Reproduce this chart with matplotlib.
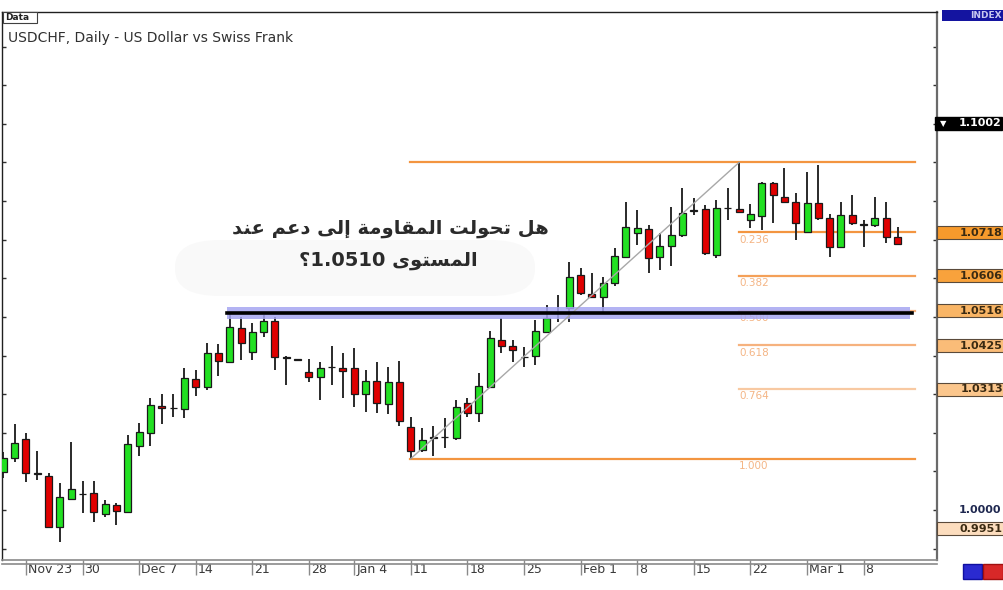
import numpy as np
import matplotlib
matplotlib.use("Agg")
import matplotlib.pyplot as plt
import matplotlib.transforms as mtransforms
from matplotlib.patches import Rectangle, FancyBboxPatch

# ───────────────────────── Data ─────────────────────────
opens = [1.0098, 1.0135, 1.0184, 1.0096, 1.0088, 0.9956, 1.0029, 1.0041, 1.0044, 0.9990,
         1.0013, 0.9995, 1.0166, 1.0199, 1.0269, 1.0264, 1.0262, 1.0339, 1.0319, 1.0407,
         1.0383, 1.0471, 1.0409, 1.0461, 1.0490, 1.0396, 1.0389, 1.0357, 1.0345, 1.0370,
         1.0368, 1.0368, 1.0300, 1.0334, 1.0275, 1.0332, 1.0215, 1.0155, 1.0187, 1.0189,
         1.0187, 1.0277, 1.0251, 1.0319, 1.0440, 1.0425, 1.0396, 1.0399, 1.0461, 1.0511,
         1.0523, 1.0609, 1.0559, 1.0552, 1.0588, 1.0655, 1.0717, 1.0728, 1.0655, 1.0684,
         1.0712, 1.0775, 1.0780, 1.0661, 1.0781, 1.0780, 1.0751, 1.0761, 1.0847, 1.0811,
         1.0798, 1.0720, 1.0795, 1.0756, 1.0681, 1.0764, 1.0741, 1.0738, 1.0756, 1.0707]
highs = [1.0150, 1.0223, 1.0199, 1.0153, 1.0096, 1.0070, 1.0176, 1.0075, 1.0075, 1.0026,
         1.0018, 1.0194, 1.0225, 1.0290, 1.0300, 1.0300, 1.0368, 1.0363, 1.0433, 1.0430,
         1.0510, 1.0500, 1.0484, 1.0505, 1.0500, 1.0399, 1.0390, 1.0391, 1.0383, 1.0425,
         1.0407, 1.0420, 1.0363, 1.0383, 1.0370, 1.0386, 1.0241, 1.0212, 1.0218, 1.0238,
         1.0285, 1.0290, 1.0355, 1.0464, 1.0497, 1.0440, 1.0422, 1.0492, 1.0531, 1.0557,
         1.0642, 1.0627, 1.0614, 1.0604, 1.0679, 1.0798, 1.0777, 1.0738, 1.0717, 1.0785,
         1.0834, 1.0808, 1.0790, 1.0803, 1.0834, 1.0900, 1.0793, 1.0850, 1.0850, 1.0886,
         1.0821, 1.0875, 1.0894, 1.0767, 1.0798, 1.0816, 1.0751, 1.0811, 1.0798, 1.0733]
lows = [1.0083, 1.0124, 1.0073, 1.0078, 0.9955, 0.9917, 1.0026, 0.9992, 0.9969, 0.9982,
        0.9961, 0.9992, 1.0140, 1.0166, 1.0223, 1.0241, 1.0238, 1.0295, 1.0311, 1.0347,
        1.0381, 1.0389, 1.0389, 1.0448, 1.0363, 1.0324, 1.0388, 1.0332, 1.0285, 1.0324,
        1.0290, 1.0267, 1.0254, 1.0251, 1.0249, 1.0218, 1.0133, 1.0150, 1.0140, 1.0161,
        1.0181, 1.0241, 1.0228, 1.0316, 1.0407, 1.0383, 1.0370, 1.0376, 1.0458, 1.0487,
        1.0487, 1.0557, 1.0549, 1.0510, 1.0580, 1.0653, 1.0686, 1.0614, 1.0622, 1.0632,
        1.0707, 1.0764, 1.0661, 1.0653, 1.0751, 1.0772, 1.0730, 1.0725, 1.0743, 1.0795,
        1.0699, 1.0717, 1.0751, 1.0655, 1.0679, 1.0738, 1.0681, 1.0733, 1.0692, 1.0686]
closes = [1.0135, 1.0174, 1.0096, 1.0094, 0.9956, 1.0034, 1.0054, 1.0042, 0.9995, 1.0016,
          0.9997, 1.0171, 1.0202, 1.0272, 1.0264, 1.0265, 1.0342, 1.0319, 1.0407, 1.0386,
          1.0474, 1.0433, 1.0461, 1.0490, 1.0396, 1.0394, 1.0389, 1.0345, 1.0368, 1.0371,
          1.0360, 1.0300, 1.0334, 1.0277, 1.0332, 1.0231, 1.0153, 1.0181, 1.0187, 1.0190,
          1.0267, 1.0251, 1.0321, 1.0446, 1.0425, 1.0414, 1.0397, 1.0464, 1.0497, 1.0513,
          1.0604, 1.0562, 1.0552, 1.0588, 1.0658, 1.0733, 1.0730, 1.0653, 1.0684, 1.0712,
          1.0769, 1.0777, 1.0666, 1.0782, 1.0783, 1.0772, 1.0767, 1.0847, 1.0816, 1.0798,
          1.0743, 1.0795, 1.0756, 1.0681, 1.0764, 1.0743, 1.0739, 1.0756, 1.0707, 1.0689]

date_ticks = [2, 7, 12, 17, 22, 27, 31, 36, 41, 46, 51, 56, 61, 66, 71, 76]
date_labels = ["Nov 23", "30", "Dec 7", "14", "21", "28", "Jan 4", "11", "18", "25",
               "Feb 1", "8", "15", "22", "Mar 1", "8"]

fib_low_idx, fib_high_idx = 36, 65
fib_levels = [0.236, 0.382, 0.5, 0.618, 0.764]
fib_level_labels = ["0.236", "0.382", "0.500", "0.618", "0.764"]

support_level = 1.0511
support_band = (1.0494, 1.0526)
support_start, support_end = 19.8, 80.3

scale_labels = ["1.0718", "1.0606", "1.0516", "1.0425", "1.0313", "0.9951"]
scale_values = [1.0718, 1.0606, 1.0516, 1.0425, 1.0313, 0.9951]
scale_colors = ["#F79A2C", "#F8A23C", "#F9B565", "#FABC78", "#FBC68C", "#FCDDBE"]
last_price = 1.1002

title = "USDCHF, Daily - US Dollar vs Swiss Frank"
question_line1 = "هل تحولت المقاومة إلى دعم عند"
question_word2 = "المستوى"
question_number = "1.0510"

# ───────────────────────── Arabic shaping (no raqm in mpl) ─────────────────────────
FORMS = {
    "ا": (0xFE8D, 0xFE8E, None, None), "إ": (0xFE87, 0xFE88, None, None),
    "ت": (0xFE95, 0xFE96, 0xFE97, 0xFE98), "ة": (0xFE93, 0xFE94, None, None),
    "ح": (0xFEA1, 0xFEA2, 0xFEA3, 0xFEA4), "د": (0xFEA9, 0xFEAA, None, None),
    "س": (0xFEB1, 0xFEB2, 0xFEB3, 0xFEB4), "ع": (0xFEC9, 0xFECA, 0xFECB, 0xFECC),
    "ق": (0xFED5, 0xFED6, 0xFED7, 0xFED8), "ل": (0xFEDD, 0xFEDE, 0xFEDF, 0xFEE0),
    "م": (0xFEE1, 0xFEE2, 0xFEE3, 0xFEE4), "ن": (0xFEE5, 0xFEE6, 0xFEE7, 0xFEE8),
    "ه": (0xFEE9, 0xFEEA, 0xFEEB, 0xFEEC), "و": (0xFEED, 0xFEEE, None, None),
    "ى": (0xFEEF, 0xFEF0, None, None),
}

def shape_word(word):
    out = []
    for i, ch in enumerate(word):
        if ch not in FORMS:
            out.append(ch)
            continue
        iso, fin, ini, med = FORMS[ch]
        prev_joins = i > 0 and word[i - 1] in FORMS and FORMS[word[i - 1]][2] is not None
        next_joins = ini is not None and i < len(word) - 1 and word[i + 1] in FORMS
        if prev_joins and next_joins:
            code = med
        elif prev_joins:
            code = fin
        elif next_joins:
            code = ini
        else:
            code = iso
        out.append(chr(code))
    return "".join(out)[::-1]

def visual_rtl(sentence):
    return " ".join(shape_word(w) for w in sentence.split()[::-1])

# ───────────────────────── Figure ─────────────────────────
W, H = 1004, 590
fig = plt.figure(figsize=(W / 100, H / 100), dpi=100)
fig.patch.set_facecolor("white")
ax = fig.add_axes([2 / W, 30 / H, 935 / W, 548 / H])

px_per_unit = 3862.0
ax.set_ylim(1.0 - 50 / px_per_unit, 1.0 + 498 / px_per_unit)
ax.set_xlim((2 - 3.3) / 11.32, (937 - 3.3) / 11.32)

idx = np.arange(len(opens))
o, h, l, c = map(np.array, (opens, highs, lows, closes))
bull = c >= o
body_lo = np.minimum(o, c)
body_h = np.maximum(np.abs(c - o), 0.00012)
colors = np.where(bull, "#22E022", "#E00000")
colors = np.where(np.abs(c - o) < 0.0002, "#202020", colors)

ax.vlines(idx, l, h, color="#2A2A2A", lw=1.4, zorder=2)
ax.bar(idx, body_h, bottom=body_lo, width=0.62, color=colors,
       edgecolor="#1A1A1A", lw=0.9, zorder=3)

# support band + line
ax.fill_between([support_start, support_end - 0.2], support_band[0], support_band[1],
                color="#A6A6F2", alpha=0.85, lw=0, zorder=4)
ax.plot([support_start, support_end], [support_level] * 2, color="black", lw=2.6, zorder=5)

# fibonacci
fib_hi, fib_lo = highs[fib_high_idx], lows[fib_low_idx]
fib_right = 80.5
ax.plot([fib_low_idx, fib_high_idx], [fib_lo, fib_hi], color="#A8A8A8", lw=1.0, zorder=4)
ax.plot([fib_low_idx - 0.1, fib_right], [fib_hi] * 2, color="#F39540", lw=1.6, zorder=1)
ax.plot([fib_low_idx - 0.1, fib_right], [fib_lo] * 2, color="#F39540", lw=1.6, zorder=1)
fib_line_colors = ["#F39540", "#F4A058", "#F6B27E", "#F6B27E", "#F8C9A2"]
for lev, lab, col in zip(fib_levels, fib_level_labels, fib_line_colors):
    val = fib_hi - lev * (fib_hi - fib_lo)
    ax.plot([fib_high_idx, fib_right], [val] * 2, color=col, lw=1.6, zorder=1)
    ax.text(fib_high_idx, val - 0.0006, lab, color="#F4B585", fontsize=7.5,
            ha="left", va="top", zorder=3)
ax.text(fib_high_idx, fib_lo - 0.0006, "1.000", color="#F4B585", fontsize=7.5,
        ha="left", va="top", zorder=3)

# axes frame / ticks
for side in ("top", "left"):
    ax.spines[side].set_color("#202020")
    ax.spines[side].set_linewidth(1.0)
ax.spines["right"].set_color("#6A6A6A")
ax.spines["right"].set_linewidth(1.6)
ax.spines["bottom"].set_color("#8A8A8A")
ax.spines["bottom"].set_linewidth(1.2)
ax.plot([0, 1], [-4 / 548] * 2, transform=ax.transAxes, color="#8A8A8A", lw=1.2, clip_on=False)

ax.set_yticks(np.arange(0.99, 1.125, 0.01))
ax.tick_params(axis="y", which="both", left=True, right=True, direction="in",
               length=3, width=1, color="#303030", labelleft=False, labelright=False)
ax.set_xticks(date_ticks)
ax.set_xticklabels(date_labels)
ax.tick_params(axis="x", direction="out", length=11, width=1, color="#8A8A8A",
               pad=-9, labelsize=9, labelcolor="#3A3A3A")
for lbl in ax.get_xticklabels():
    lbl.set_ha("left")
    lbl.set_transform(lbl.get_transform() + mtransforms.ScaledTranslation(2 / 100, 0, fig.dpi_scale_trans))

# right price scale
blend = mtransforms.blended_transform_factory(ax.transAxes, ax.transData)
box_w = 67 / 935
box_h = 13 / px_per_unit
ax.add_patch(Rectangle((1.0 - 2 / 935, last_price - box_h / 2), box_w, box_h, transform=blend,
                       facecolor="black", edgecolor="black", clip_on=False, zorder=6))
ax.text(1.0 + 3 / 935, last_price, "▼", transform=blend, color="white", fontsize=6,
        ha="left", va="center", clip_on=False, zorder=7)
ax.text(1.0 + 64 / 935, last_price, f"{last_price:.4f}", transform=blend, color="white",
        fontsize=8, fontweight="bold", ha="right", va="center", clip_on=False, zorder=7)
for lab, val, col in zip(scale_labels, scale_values, scale_colors):
    ax.add_patch(Rectangle((1.0, val - box_h / 2), box_w, box_h, transform=blend,
                           facecolor=col, edgecolor="#5A4A3A", lw=0.8, clip_on=False, zorder=6))
    ax.text(1.0 + 66 / 935, val, lab, transform=blend, color="#3A2A12", fontsize=8,
            fontweight="bold", ha="right", va="center", clip_on=False, zorder=7)
ax.text(1.0 + 64 / 935, 1.0, "1.0000", transform=blend, color="#1F2850", fontsize=8,
        fontweight="bold", ha="right", va="center", clip_on=False, zorder=7)

# header bits
fig.patches.append(Rectangle((942 / W, 1 - 21 / H), 62 / W, 11 / H, transform=fig.transFigure,
                             facecolor="#1414A0", edgecolor="none"))
fig.text(1002 / W, 1 - 15.5 / H, "INDEX", color="#C8C8F0", fontsize=6.5, fontweight="bold",
         ha="right", va="center")
fig.patches.append(Rectangle((3 / W, 1 - 23 / H), 34 / W, 11 / H, transform=fig.transFigure,
                             facecolor="white", edgecolor="#404040", lw=0.8))
fig.text(5 / W, 1 - 17.5 / H, "Data", color="#202020", fontsize=6.5, fontweight="bold",
         ha="left", va="center")
fig.text(8 / W, 1 - 38 / H, title, color="#303030", fontsize=10, ha="left", va="center")

# bottom right buttons
fig.patches.append(Rectangle((963 / W, 1 - 579 / H), 19 / W, 15 / H, transform=fig.transFigure,
                             facecolor="#2A2AD0", edgecolor="#1010A0"))
fig.patches.append(Rectangle((983 / W, 1 - 579 / H), 20 / W, 15 / H, transform=fig.transFigure,
                             facecolor="#D82828", edgecolor="#A01010"))

# question text with a faint glow behind it
fig.patches.append(FancyBboxPatch((175 / W, 1 - 296 / H), 360 / W, 56 / H,
                                  boxstyle="round,pad=0,rounding_size=0.045",
                                  transform=fig.transFigure, facecolor="#F9F9F9",
                                  edgecolor="none"))
line1 = visual_rtl(question_line1)
line2 = "؟" + question_number + " " + shape_word(question_word2)
fig.text(390 / W, 1 - 229 / H, line1, color="#2B2B2B", fontsize=14, fontweight="bold",
         family=["DejaVu Sans"], ha="center", va="center")
fig.text(388 / W, 1 - 261 / H, line2, color="#2B2B2B", fontsize=14, fontweight="bold",
         family=["DejaVu Sans"], ha="center", va="center")

fig.savefig("out.png", dpi=100)
